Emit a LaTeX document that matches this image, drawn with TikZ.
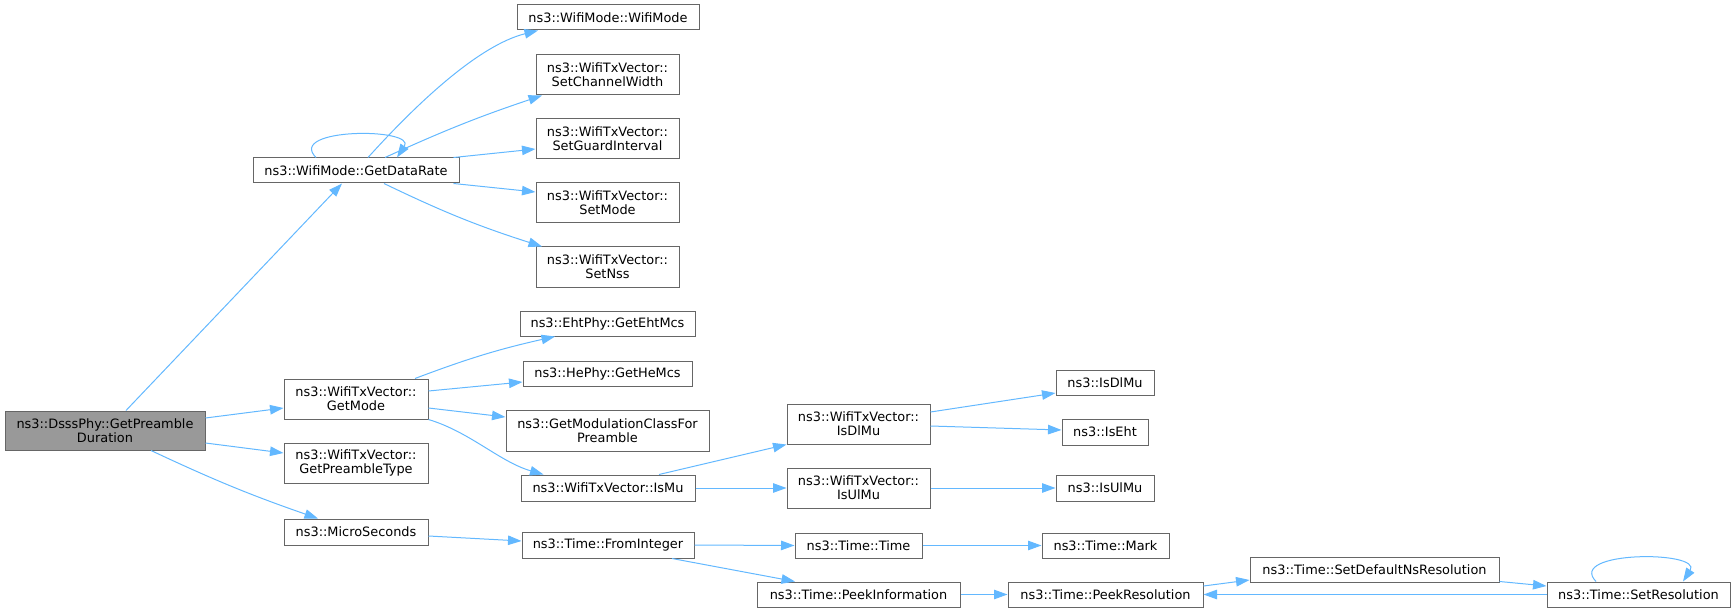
\documentclass[tikz,border=0pt]{standalone}
\usepackage{fontspec}
\setmainfont{DejaVu Sans}
\usetikzlibrary{arrows.meta}
\definecolor{edgeblue}{HTML}{63B8FF}
\definecolor{nodegray}{HTML}{666666}
\definecolor{rootfill}{HTML}{999999}
\begin{document}
\begin{tikzpicture}[x=1pt,y=-1pt,
  box/.style={draw=nodegray,line width=1pt,fill=white,inner sep=0pt,align=center,
    font=\fontsize{12.9}{14}\selectfont},
  edge/.style={draw=edgeblue,line width=1pt,-{Triangle[length=13.5pt,width=9.5pt]}}]
\useasboundingbox (0,0) rectangle (1736,612);

% column 0
\node[box,fill=rootfill,minimum width=200pt,minimum height=39pt] (root) at (105,430.5) {ns3::DsssPhy::GetPreamble\\Duration};
% column 1
\node[box,minimum width=206pt,minimum height=25pt] (gdr) at (356,170.5) {ns3::WifiMode::GetDataRate};
\node[box,minimum width=144pt,minimum height=40pt] (gm) at (356,399) {ns3::WifiTxVector::\\GetMode};
\node[box,minimum width=144pt,minimum height=40pt] (gpt) at (356,463) {ns3::WifiTxVector::\\GetPreambleType};
\node[box,minimum width=144pt,minimum height=26pt] (ms) at (356,532) {ns3::MicroSeconds};
% column 2
\node[box,minimum width=182pt,minimum height=25pt] (wm) at (608,17.5) {ns3::WifiMode::WifiMode};
\node[box,minimum width=143pt,minimum height=40pt] (scw) at (607.5,75) {ns3::WifiTxVector::\\SetChannelWidth};
\node[box,minimum width=143pt,minimum height=40pt] (sgi) at (607.5,138.5) {ns3::WifiTxVector::\\SetGuardInterval};
\node[box,minimum width=143pt,minimum height=40pt] (smode) at (607.5,202.5) {ns3::WifiTxVector::\\SetMode};
\node[box,minimum width=143pt,minimum height=40pt] (snss) at (607.5,267) {ns3::WifiTxVector::\\SetNss};
\node[box,minimum width=175pt,minimum height=25pt] (eht) at (607.5,323.5) {ns3::EhtPhy::GetEhtMcs};
\node[box,minimum width=169pt,minimum height=25pt] (he) at (607.5,373.5) {ns3::HePhy::GetHeMcs};
\node[box,minimum width=203pt,minimum height=41pt] (gmc) at (607.5,430.5) {ns3::GetModulationClassFor\\Preamble};
\node[box,minimum width=174pt,minimum height=26pt] (ismu) at (608,488) {ns3::WifiTxVector::IsMu};
\node[box,minimum width=172pt,minimum height=26pt] (fi) at (608,545) {ns3::Time::FromInteger};
% column 3
\node[box,minimum width=143pt,minimum height=40pt] (tvdl) at (858.5,424) {ns3::WifiTxVector::\\IsDlMu};
\node[box,minimum width=143pt,minimum height=40pt] (tvul) at (858.5,488) {ns3::WifiTxVector::\\IsUlMu};
\node[box,minimum width=127pt,minimum height=25pt] (tt) at (858.5,545.5) {ns3::Time::Time};
\node[box,minimum width=203pt,minimum height=25pt] (pi) at (858.5,594.5) {ns3::Time::PeekInformation};
% column 4
\node[box,minimum width=98pt,minimum height=25pt] (dl) at (1105,382.5) {ns3::IsDlMu};
\node[box,minimum width=86pt,minimum height=26pt] (ieht) at (1105,432) {ns3::IsEht};
\node[box,minimum width=98pt,minimum height=26pt] (ul) at (1105,488) {ns3::IsUlMu};
\node[box,minimum width=127pt,minimum height=25pt] (mark) at (1105.5,545.5) {ns3::Time::Mark};
\node[box,minimum width=195pt,minimum height=25pt] (pr) at (1105.5,594.5) {ns3::Time::PeekResolution};
% column 5, 6
\node[box,minimum width=249pt,minimum height=25pt] (sdns) at (1374.5,569.5) {ns3::Time::SetDefaultNsResolution};
\node[box,minimum width=183pt,minimum height=25pt] (sr) at (1638.5,594.5) {ns3::Time::SetResolution};

% edges from root
\draw[edge] ([xshift=21pt]root.north) -- ([xshift=-14pt]gdr.south);
\draw[edge] ([yshift=12.5pt]root.east) -- ([yshift=-9pt]gm.west);
\draw[edge] ([yshift=-12.5pt]root.east) -- ([yshift=10pt]gpt.west);
\draw[edge] ([xshift=46pt]root.south) to[bend right=3] ([xshift=-38pt]ms.north);

% edges from GetDataRate
\draw[edge] ([xshift=12pt]gdr.north) .. controls (420,100) and (480,45) .. ([xshift=-70pt]wm.south);
\draw[edge] ([xshift=29pt]gdr.north) to[bend left=3] ([xshift=-65.5pt]scw.south);
\draw[edge] ([xshift=-6pt]gdr.north east) -- ([yshift=-10.5pt]sgi.west);
\draw[edge] ([xshift=-6pt]gdr.south east) -- ([yshift=10.5pt]smode.west);
\draw[edge] ([xshift=28pt]gdr.south) to[bend right=4] ([xshift=-65.5pt]snss.north);
\draw[edge] ([xshift=-40pt]gdr.north) .. controls +(-30,-30) and +(20,-30) .. ([xshift=41pt]gdr.north);

% edges from GetMode
\draw[edge] ([xshift=59pt]gm.north) to[bend left=4] ([xshift=-52.5pt]eht.south);
\draw[edge] ([yshift=8pt]gm.east) -- ([yshift=-8.5pt]he.west);
\draw[edge] ([yshift=-9pt]gm.east) -- ([yshift=13.5pt]gmc.west);
\draw[edge] (gm.south east) .. controls (470,432) and (500,462) .. ([xshift=23pt]ismu.north west);

% IsMu
\draw[edge] ([xshift=51pt]ismu.north) -- (tvdl.south west);
\draw[edge] (ismu.east) -- (tvul.west);
\draw[edge] ([yshift=12pt]tvdl.east) -- ([yshift=-10.5pt]dl.west);
\draw[edge] ([yshift=-2pt]tvdl.east) -- ([yshift=2pt]ieht.west);
\draw[edge] (tvul.east) -- (ul.west);

% time chain
\draw[edge] ([yshift=-4pt]ms.east) -- ([yshift=4pt]fi.west);
\draw[edge] (fi.east) -- (tt.west);
\draw[edge] ([xshift=64pt]fi.south) -- ([xshift=-63.5pt]pi.north);
\draw[edge] (tt.east) -- (mark.west);
\draw[edge] (pi.east) -- (pr.west);
\draw[edge] ([yshift=8.5pt]pr.east) -- ([yshift=-10.5pt]sdns.west);
\draw[edge] ([yshift=1pt]sdns.south east) -- ([yshift=8.5pt]sr.west);
\draw[edge] (sr.west) -- (pr.east);
\draw[edge] ([xshift=-42.5pt]sr.north) .. controls +(-30,-31) and +(20,-31) .. ([xshift=44.5pt]sr.north);
\end{tikzpicture}
\end{document}
